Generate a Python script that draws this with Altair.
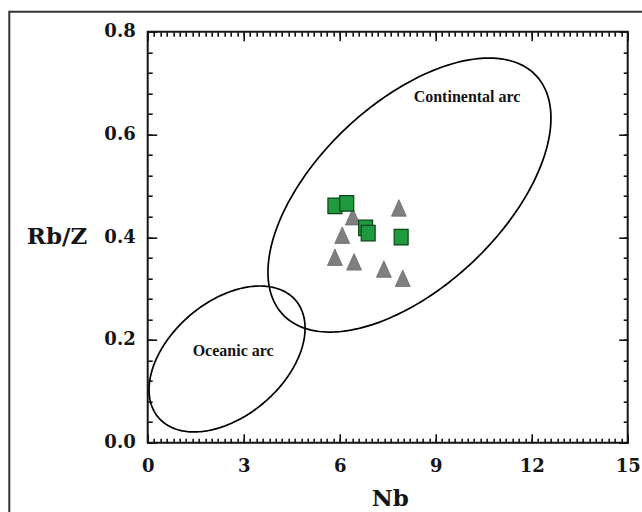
import numpy as np
import pandas as pd
import altair as alt

# Sample compositions (Nb in ppm, Rb/Zr ratio)
tri_nb = [7.85, 6.41, 6.08, 5.85, 6.45, 7.38, 7.97]
tri_rbz = [0.457, 0.440, 0.404, 0.361, 0.352, 0.338, 0.320]
sq_nb = [5.85, 6.22, 6.81, 6.89, 7.92]
sq_rbz = [0.461, 0.466, 0.418, 0.408, 0.400]

# Tectonic fields: centre and conjugate semi-axes, in Nb and Rb/Z units
field_names = ["Continental arc", "Oceanic arc"]
field_center_nb = [8.18, 2.48]
field_center_rbz = [0.482, 0.163]
field_major_nb = [3.956, 2.144]
field_major_rbz = [0.2326, 0.1140]
field_minor_nb = [-1.975, -1.161]
field_minor_rbz = [0.1304, 0.0847]

# Field label anchors
label_nb = [9.98, 2.67]
label_rbz = [0.673, 0.179]

# Axis ticks
x_major = [0, 3, 6, 9, 12, 15]
y_major = [0.0, 0.2, 0.4, 0.6, 0.8]
x_minor = [round(i * 0.2, 1) for i in range(76)]
y_minor = [round(i * 0.04, 2) for i in range(21)]

tri_df = pd.DataFrame({"Nb": tri_nb, "RbZ": tri_rbz})
sq_df = pd.DataFrame({"Nb": sq_nb, "RbZ": sq_rbz})
label_df = pd.DataFrame({"Nb": label_nb, "RbZ": label_rbz, "name": field_names})

# Outline of each field as a closed ellipse
t = np.linspace(0, 2 * np.pi, 241)
rows = []
for k, name in enumerate(field_names):
    for i, tt in enumerate(t):
        rows.append({
            "field": name,
            "i": i,
            "Nb": field_center_nb[k] + field_major_nb[k] * np.cos(tt) + field_minor_nb[k] * np.sin(tt),
            "RbZ": field_center_rbz[k] + field_major_rbz[k] * np.cos(tt) + field_minor_rbz[k] * np.sin(tt),
        })
ell_df = pd.DataFrame(rows)

x_scale = alt.Scale(domain=[0, 15], nice=False, zero=False)
y_scale = alt.Scale(domain=[0, 0.8], nice=False, zero=False)

INK = "#151515"
SERIF_WIDE = "DejaVu Serif"

x_main = alt.Axis(
    values=x_major, orient="bottom", ticks=False, tickSize=0, domain=False, grid=False,
    labelFont=SERIF_WIDE, labelFontWeight="bold", labelFontSize=18, labelColor=INK,
    labelPadding=15, labelFlush=False, labelOverlap=False,
    title="Nb", titleFont=SERIF_WIDE, titleFontWeight="bold", titleFontSize=23,
    titleColor=INK, titleX=242, titleY=63, titleAlign="center", titleBaseline="alphabetic",
)
y_main = alt.Axis(
    values=y_major, orient="left", format=".1f", ticks=False, tickSize=0, domain=False, grid=False,
    labelFont=SERIF_WIDE, labelFontWeight="bold", labelFontSize=18, labelColor=INK,
    labelPadding=12.5, labelOverlap=False, labelBaseline="middle",
    title="Rb/Z", titleFont=SERIF_WIDE, titleFontWeight="bold", titleFontSize=23,
    titleColor=INK, titleAngle=0, titleX=-61, titleY=212, titleAlign="right",
    titleBaseline="alphabetic",
)

frame = alt.Chart(alt.Data(values=[{}])).mark_rect(
    fillOpacity=0, stroke="#333333", strokeWidth=2
).encode(
    x=alt.value(-138.4), x2=alt.value(700), y=alt.value(-20), y2=alt.value(600)
)

fields = alt.Chart(ell_df).mark_line(color="black", strokeWidth=1.7).encode(
    x=alt.X("Nb:Q", scale=x_scale, axis=x_main),
    y=alt.Y("RbZ:Q", scale=y_scale, axis=y_main),
    detail="field:N",
    order="i:Q",
)

triangles = alt.Chart(tri_df).mark_point(
    shape="M0,-1L0.9,1L-0.9,1Z", filled=True, fill="#7f7f7f", stroke="#6a6a6a",
    strokeWidth=0.8, size=272, opacity=1,
).encode(
    x=alt.X("Nb:Q", scale=x_scale, axis=None),
    y=alt.Y("RbZ:Q", scale=y_scale, axis=None),
)

squares = alt.Chart(sq_df).mark_point(
    shape="M-0.9,-1L0.9,-1L0.9,1L-0.9,1Z", filled=True, fill="#1f9a3f", stroke="#0b4418",
    strokeWidth=1.2, size=240, opacity=1,
).encode(
    x=alt.X("Nb:Q", scale=x_scale, axis=None),
    y=alt.Y("RbZ:Q", scale=y_scale, axis=None),
)

labels = alt.Chart(label_df).mark_text(
    font="Liberation Serif", fontWeight="bold", fontSize=16, color=INK,
    align="center", baseline="middle",
).encode(
    x=alt.X("Nb:Q", scale=x_scale, axis=None),
    y=alt.Y("RbZ:Q", scale=y_scale, axis=None),
    text="name:N",
)


def tick_layer(x_orient, y_orient, xv, yv, size):
    """Invisible layer that only carries inward-pointing tick marks."""
    common = dict(
        ticks=True, tickSize=size, offset=-size, tickColor=INK, tickWidth=1.6,
        labels=False, domain=False, grid=False, title=None,
    )
    return alt.Chart(tri_df).mark_point(opacity=0).encode(
        x=alt.X("Nb:Q", scale=x_scale, axis=alt.Axis(orient=x_orient, values=xv, **common)),
        y=alt.Y("RbZ:Q", scale=y_scale, axis=alt.Axis(orient=y_orient, values=yv, **common)),
    )


ticks = [
    tick_layer("bottom", "left", x_major, y_major, 9),
    tick_layer("top", "right", x_major, y_major, 9),
    tick_layer("bottom", "left", x_minor, y_minor, 4.5),
    tick_layer("top", "right", x_minor, y_minor, 4.5),
]

chart = alt.layer(frame, fields, triangles, squares, labels, *ticks).resolve_axis(
    x="independent", y="independent"
).properties(
    width=480,
    height=411,
    autosize=alt.AutoSizeParams(type="none"),
    padding={"left": 147.7, "top": 31.7, "right": 14.3, "bottom": 69.3},
    background="white",
).configure_view(
    stroke=INK, strokeWidth=2
)

chart.save("out.html", embed_options={"renderer": "svg", "actions": False})
